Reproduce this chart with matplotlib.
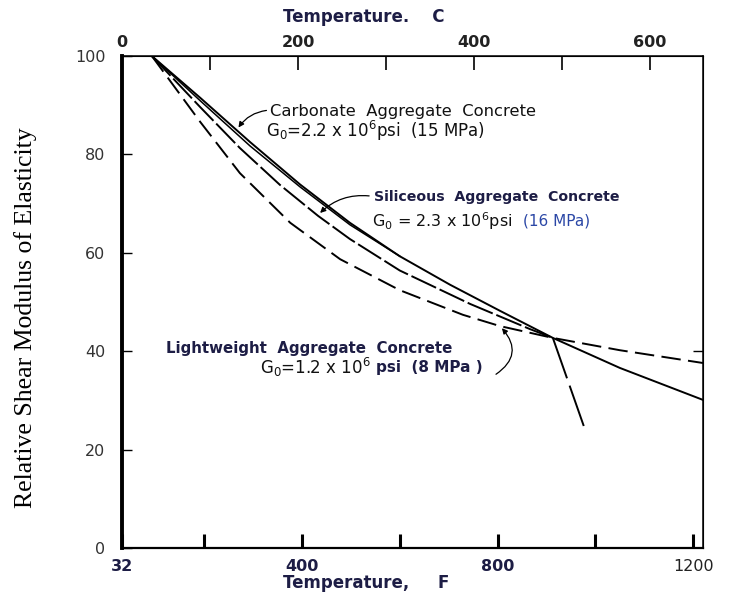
import matplotlib
matplotlib.use("Agg")
import matplotlib.pyplot as plt
from matplotlib.ticker import FixedLocator, NullFormatter

# ---------------- data (temperature in F, relative shear modulus in %) -------------
carb_F = [93, 192, 294, 396, 498, 600, 703, 805, 913, 1050, 1220]
carb_G = [100, 91.5, 82.5, 73.9, 66.1, 59.3, 53.5, 48.2, 42.7, 36.6, 30.1]

carb2_F = [93, 192, 294, 396, 498, 600]
carb2_G = [100, 90.9, 81.7, 73.4, 65.7, 59.3]

sil_F = [93, 192, 273, 355, 433, 498, 600, 744, 866, 913]
sil_G = [100, 89.6, 81.3, 73.8, 67.5, 62.8, 56.4, 49.6, 44.5, 42.7]

sil_drop_F = [913, 979]
sil_drop_G = [42.7, 24.0]

lw_F = [93, 192, 273, 376, 478, 600, 729, 805, 913, 1050, 1220]
lw_G = [100, 86.6, 76.2, 66.1, 58.7, 52.4, 47.4, 45.1, 42.7, 40.2, 37.6]

f_ticks = [32, 400, 800, 1200]
f_minor = [200, 600, 1000]
c_ticks = [0, 200, 400, 600]
c_minor = [100, 300, 500]
g_ticks = [0, 20, 40, 60, 80, 100]

navy = "#1d1d45"
blue = "#2b47a6"

W, H = 730, 598
fig = plt.figure(figsize=(W / 100, H / 100), dpi=100)
ax = fig.add_axes([122 / W, 1 - 548 / H, (703 - 122) / W, (548 - 56) / H])
ax.set_xlim(32, 1220)
ax.set_ylim(0, 100)

ax.plot(carb_F, carb_G, color="black", lw=1.4, solid_joinstyle="round")
ax.plot(carb2_F, carb2_G, color="black", lw=1.1, solid_joinstyle="round")
ax.plot(sil_F, sil_G, color="black", lw=1.4, dashes=(14, 2))
ax.plot(sil_drop_F, sil_drop_G, color="black", lw=1.4, dashes=(22, 4))
ax.plot(lw_F, lw_G, color="black", lw=1.4, dashes=(10, 3.8))

# axes styling
for s in ax.spines.values():
    s.set_linewidth(1.1)
ax.spines["left"].set_linewidth(2.8)
ax.spines["bottom"].set_linewidth(1.6)

ax.xaxis.set_major_locator(FixedLocator(f_ticks))
ax.xaxis.set_minor_locator(FixedLocator(f_minor))
ax.set_xticklabels([str(v) for v in f_ticks])
ax.yaxis.set_major_locator(FixedLocator(g_ticks))
ax.set_yticklabels([str(v) for v in g_ticks])
ax.tick_params(axis="x", which="both", direction="in", length=10, width=2.2,
               labelsize=11.5, pad=8, colors="black", labelcolor=navy)
ax.tick_params(axis="y", which="major", direction="in", length=7, width=1,
               labelsize=11.5, pad=12, labelcolor="#333333")
for lab in ax.get_xticklabels()[:-1]:
    lab.set_fontweight("bold")
ax.get_xticklabels()[-1].set_color("#222222")

# right side tick
right = ax.secondary_yaxis("right")
right.yaxis.set_major_locator(FixedLocator([40]))
right.yaxis.set_major_formatter(NullFormatter())
right.tick_params(direction="in", length=7, width=1)

# top axis (Celsius)
top = ax.secondary_xaxis("top", functions=(lambda f: (f - 32) * 5 / 9,
                                           lambda c: c * 9 / 5 + 32))
top.xaxis.set_major_locator(FixedLocator(c_ticks))
top.xaxis.set_minor_locator(FixedLocator(c_minor))
top.set_xticklabels([str(v) for v in c_ticks])
top.tick_params(axis="x", which="both", direction="in", length=10, width=1.2,
                labelsize=11.5, pad=4, labelcolor="#222222")
for lab in top.get_xticklabels():
    lab.set_fontweight("bold")

fig.text(364 / W, 1 - 17 / H, "Temperature.    C", fontsize=12, fontweight="bold",
         color=navy, ha="center", va="center")
fig.text(366 / W, 1 - 583 / H, "Temperature,     F", fontsize=12, fontweight="bold",
         color=navy, ha="center", va="center")
fig.text(26 / W, 1 - 318 / H, "Relative Shear Modulus of Elasticity",
         family="Liberation Serif", fontsize=18.5, rotation=90,
         ha="center", va="center")

# annotations
ax.text(335, 88.8, "Carbonate  Aggregate  Concrete", fontsize=11.8, va="center",
        color="#111111")
ax.text(326, 84.8, r"G$_0$=2.2 x 10$^6$psi  (15 MPa)", fontsize=12, va="center",
        color="#111111")
ax.annotate("", xy=(267, 85.0), xytext=(333, 89.0),
            arrowprops=dict(arrowstyle="-|>", color="black", lw=0.9,
                            connectionstyle="arc3,rad=0.25", mutation_scale=8))

ax.text(547, 71.3, "Siliceous  Aggregate  Concrete", fontsize=10.2, fontweight="bold",
        va="center", color=navy)
ax.text(543, 66.5, r"G$_0$ = 2.3 x 10$^6$psi", fontsize=11.5, va="center", color="#111111")
ax.text(852, 66.5, "(16 MPa)", fontsize=11, va="center", color=blue)
ax.annotate("", xy=(433, 67.7), xytext=(543, 71.5),
            arrowprops=dict(arrowstyle="-|>", color="black", lw=0.9,
                            connectionstyle="arc3,rad=0.25", mutation_scale=8))

ax.text(122, 40.65, "Lightweight  Aggregate  Concrete", fontsize=10.8, fontweight="bold",
        va="center", color=navy)
ax.text(314, 36.6, r"G$_0$=1.2 x 10$^6$", fontsize=12, va="center", color="#111111")
ax.text(552, 36.6, "psi  (8 MPa )", fontsize=11, va="center", color=navy,
        fontweight="bold")
ax.annotate("", xy=(805, 45.1), xytext=(792, 35.0),
            arrowprops=dict(arrowstyle="-|>", color="black", lw=0.9,
                            connectionstyle="arc3,rad=0.6", mutation_scale=8))

fig.savefig("out.png", dpi=100)
